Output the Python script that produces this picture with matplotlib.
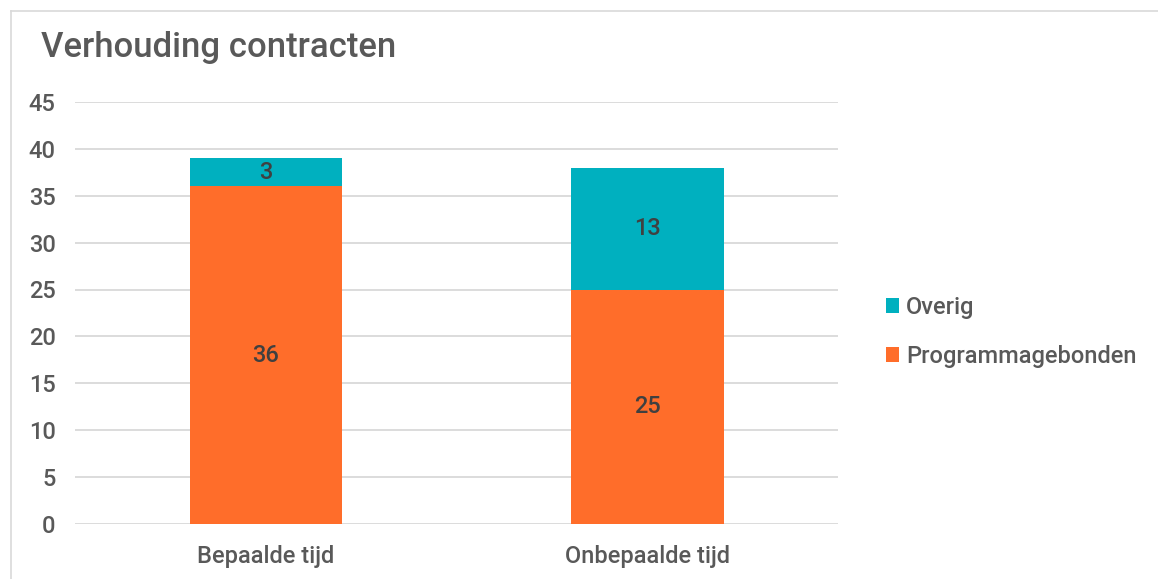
import matplotlib.pyplot as plt
from matplotlib import font_manager
from matplotlib.lines import Line2D
import numpy as np

categories = ['Bepaalde tijd', 'Onbepaalde tijd']
programmagebonden = [36, 25]
overig = [3, 13]
yticks = [0, 5, 10, 15, 20, 25, 30, 35, 40, 45]

orange = '#FF6D2A'
teal = '#00B0BF'
text_gray = '#595959'

avail = {f.name for f in font_manager.fontManager.ttflist}
fam = [f for f in ['Liberation Sans Narrow', 'Roboto', 'DejaVu Sans'] if f in avail]
plt.rcParams['font.family'] = fam
plt.rcParams['font.weight'] = 'medium'

fig = plt.figure(figsize=(11.58, 5.79), dpi=100)
ax = fig.add_axes([0.0648, 0.095, 0.659, 0.729])

x = np.arange(len(categories))
width = 0.4
b1 = ax.bar(x, programmagebonden, width, color=orange, label='Programmagebonden', zorder=3)
b2 = ax.bar(x, overig, width, bottom=programmagebonden, color=teal, label='Overig', zorder=3)

for rect, v in zip(b1, programmagebonden):
    ax.text(rect.get_x() + rect.get_width() / 2, rect.get_y() + v / 2, str(v),
            ha='center', va='center', fontsize=17, color='#404040', zorder=4)
for rect, v, b in zip(b2, overig, programmagebonden):
    ax.text(rect.get_x() + rect.get_width() / 2, b + v / 2, str(v),
            ha='center', va='center', fontsize=17, color='#404040', zorder=4)

ax.set_xlim(-0.5, 1.5)
ax.set_ylim(0, 45)
ax.set_yticks(yticks)
ax.set_xticks(x)
ax.set_xticklabels(categories)
ax.tick_params(axis='both', length=0, labelsize=17, colors=text_gray)
ax.tick_params(axis='y', pad=14)
ax.tick_params(axis='x', pad=15)
ax.grid(axis='y', color='#D9D9D9', linewidth=1.3, zorder=0)
for s in ax.spines.values():
    s.set_visible(False)

fig.text(0.035, 0.918, 'Verhouding contracten', fontsize=25, color=text_gray, ha='left', va='center')

handles = [b2, b1]
ax.legend(handles, ['Overig', 'Programmagebonden'], loc='center left',
          bbox_to_anchor=(1.035, 0.455), frameon=False, fontsize=17,
          labelcolor=text_gray, handlelength=0.55, handleheight=0.55,
          handletextpad=0.3, labelspacing=1.1)

# chart border (top and left)
fig.add_artist(Line2D([0.0095, 1.0], [0.981, 0.981], color='#D9D9D9', linewidth=1.2, transform=fig.transFigure))
fig.add_artist(Line2D([0.0095, 0.0095], [0.0, 0.981], color='#D9D9D9', linewidth=1.2, transform=fig.transFigure))

fig.savefig('out.png', dpi=100)
